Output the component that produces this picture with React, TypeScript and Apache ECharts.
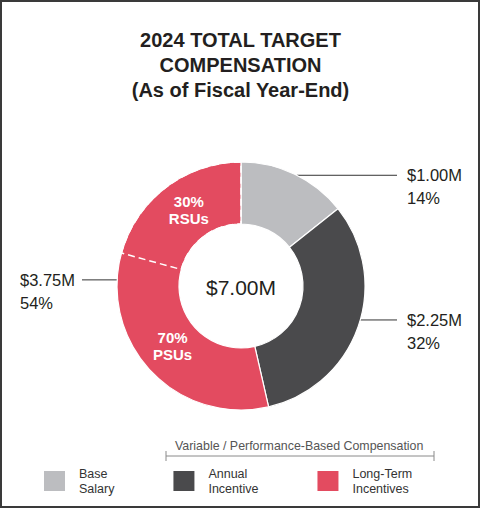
import React, { useEffect, useRef } from "react";
import * as echarts from "echarts";

// ---- data ----
const categories = ["Base Salary", "Annual Incentive", "Long-Term Incentives"];
const legendLabels = ["Base\nSalary", "Annual\nIncentive", "Long-Term\nIncentives"];
const valuesM = [1.0, 2.25, 3.75];
const ltiParts = ["PSUs", "RSUs"];
const ltiPartShareLabels = ["70%", "30%"];
// arc sizes of the PSU / RSU split as drawn in the picture (sum = LTI value)
const ltiPartArcValues = [2.3, 1.45];
const titleLines = ["2024 TOTAL TARGET", "COMPENSATION", "(As of Fiscal Year-End)"];
const bracketText = "Variable / Performance-Based Compensation";

// ---- styles / layout ----
const colors = ["#bcbdc0", "#4a4a4c", "#e34b60"];
const FONT = "'Liberation Sans', Arial, Helvetica, sans-serif";
const TEXT = "#231f20";
const CX = 241;
const CY = 286;
const R_IN = 62;
const R_OUT = 124;
const LABEL_LINE_Y_SHIFT = [1, -7, -20];
const INNER_LABEL_SHIFT: Record<string, [number, number]> = {
  PSUs: [1, -6],
  RSUs: [6, 0],
};

export default function App() {
  const ref = useRef<HTMLDivElement>(null);

  useEffect(() => {
    if (!ref.current) return;
    const chart = echarts.init(ref.current, undefined, { renderer: "svg" });
    const total = valuesM.reduce((a, b) => a + b, 0);

    const option: any = {
      animation: false,
      backgroundColor: "#ffffff",
      title: {
        text: titleLines.join("\n"),
        left: "center",
        top: 27,
        padding: 0,
        textStyle: {
          fontSize: 20,
          fontWeight: "bold",
          lineHeight: 25,
          color: TEXT,
          fontFamily: FONT,
        },
      },
      legend: {
        data: categories,
        left: 44,
        top: 466,
        padding: 0,
        icon: "rect",
        itemWidth: 21,
        itemHeight: 20,
        itemGap: 59,
        selectedMode: false,
        itemStyle: { borderWidth: 0 },
        formatter: (name: string) => legendLabels[categories.indexOf(name)],
        textStyle: {
          fontSize: 12.5,
          lineHeight: 15,
          color: "#333333",
          fontFamily: FONT,
          padding: [0, 0, 0, 9],
        },
      },
      graphic: [
        {
          type: "rect",
          shape: { x: 1, y: 1, width: 478, height: 506 },
          style: { fill: "none", stroke: "#3a3a3a", lineWidth: 2 },
          silent: true,
        },
        {
          type: "text",
          x: CX,
          y: CY + 1,
          style: {
            text: `$${total.toFixed(2)}M`,
            fontSize: 21,
            fontFamily: FONT,
            fill: TEXT,
            align: "center",
            verticalAlign: "middle",
          },
          silent: true,
        },
        {
          type: "text",
          x: 175,
          y: 446,
          style: {
            text: bracketText,
            fontSize: 12.4,
            fontFamily: FONT,
            fill: "#555555",
            align: "left",
            verticalAlign: "middle",
          },
          silent: true,
        },
        {
          type: "line",
          shape: { x1: 166, y1: 456, x2: 434, y2: 456 },
          style: { stroke: "#8a8a8a", lineWidth: 1 },
          silent: true,
        },
        {
          type: "line",
          shape: { x1: 166, y1: 451, x2: 166, y2: 461 },
          style: { stroke: "#8a8a8a", lineWidth: 1 },
          silent: true,
        },
        {
          type: "line",
          shape: { x1: 434, y1: 451, x2: 434, y2: 461 },
          style: { stroke: "#8a8a8a", lineWidth: 1 },
          silent: true,
        },
      ],
      series: [
        {
          type: "pie",
          name: "comp",
          radius: [R_IN, R_OUT],
          center: [CX, CY],
          startAngle: 90,
          clockwise: true,
          avoidLabelOverlap: false,
          silent: true,
          emphasis: { disabled: true },
          itemStyle: { borderColor: "#ffffff", borderWidth: 1.2 },
          label: {
            show: true,
            position: "outside",
            formatter: (p: any) =>
              `$${Number(p.value).toFixed(2)}M\n${Math.round(p.percent)}%`,
            fontSize: 16.5,
            lineHeight: 23,
            color: TEXT,
            fontFamily: FONT,
          },
          labelLine: {
            show: true,
            length: 0,
            length2: 20,
            lineStyle: { color: "#333333", width: 1 },
          },
          labelLayout: (p: any) => {
            const pts = p.labelLinePoints;
            if (!pts) return {};
            const i = p.dataIndex;
            const y = pts[0][1] + LABEL_LINE_Y_SHIFT[i];
            const right = pts[0][0] > CX;
            const d = Math.sqrt(Math.max(R_OUT * R_OUT - (y - CY) * (y - CY), 0));
            const x0 = right ? CX + d : CX - d;
            const x1 = right ? 397 : 82;
            return {
              x: right ? 407 : 20,
              y: y + 11.5,
              align: "left",
              verticalAlign: "middle",
              labelLinePoints: [
                [x0, y],
                [x0, y],
                [x1, y],
              ],
            };
          },
          data: categories.map((n, i) => ({
            name: n,
            value: valuesM[i],
            itemStyle: { color: colors[i] },
          })),
        },
        {
          type: "pie",
          name: "lti-split",
          radius: [R_IN, R_OUT],
          center: [CX, CY],
          startAngle: 90,
          clockwise: true,
          avoidLabelOverlap: false,
          silent: true,
          emphasis: { disabled: true },
          label: {
            show: true,
            position: "inside",
            fontSize: 15,
            fontWeight: "bold",
            lineHeight: 17,
            color: "#ffffff",
            fontFamily: FONT,
            formatter: (p: any) => {
              const k = ltiParts.indexOf(p.name);
              return k < 0 ? "" : `${ltiPartShareLabels[k]}\n${ltiParts[k]}`;
            },
          },
          labelLayout: (p: any) => {
            const name = ltiParts[p.dataIndex - 1];
            const s = name ? INNER_LABEL_SHIFT[name] : undefined;
            return s ? { dx: s[0], dy: s[1] } : {};
          },
          labelLine: { show: false },
          data: [
            {
              name: "fixed+annual",
              value: valuesM[0] + valuesM[1],
              itemStyle: { color: "rgba(0,0,0,0)", borderWidth: 0 },
              label: { show: false },
            },
            {
              name: ltiParts[0],
              value: ltiPartArcValues[0],
              itemStyle: { color: "rgba(0,0,0,0)", borderWidth: 0 },
            },
            {
              name: ltiParts[1],
              value: ltiPartArcValues[1],
              itemStyle: {
                color: "rgba(0,0,0,0)",
                borderColor: "#ffffff",
                borderWidth: 1.5,
                borderType: [7, 4],
              },
            },
          ],
        },
      ],
    };

    chart.setOption(option);
    return () => chart.dispose();
  }, []);

  return (
    <div
      ref={ref}
      style={{
        position: "absolute",
        left: 0,
        top: 0,
        width: 481,
        height: 509,
        background: "#fff",
      }}
    />
  );
}
